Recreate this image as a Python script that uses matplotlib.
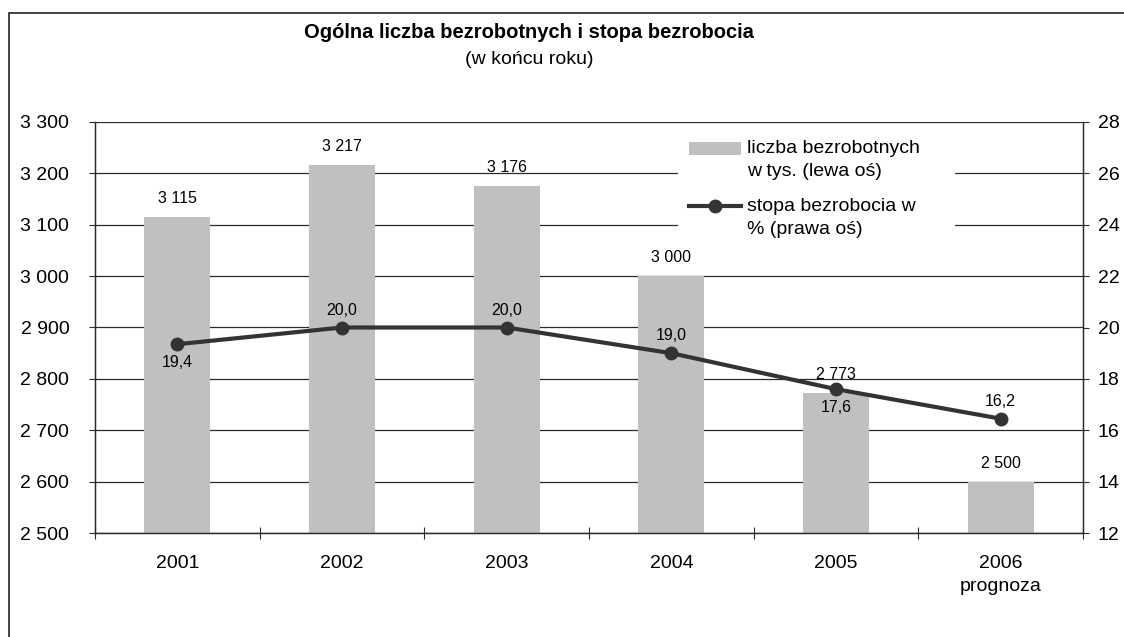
import matplotlib
matplotlib.use("Agg")
import matplotlib.pyplot as plt
from matplotlib.patches import Rectangle
from matplotlib.lines import Line2D
import numpy as np

plt.rcParams['font.family'] = ['Liberation Sans', 'DejaVu Sans']

years = ["2001", "2002", "2003", "2004", "2005", "2006\nprognoza"]
unemployed = [3115, 3217, 3176, 3000, 2773, 2600]
unemployed_labels = ["3 115", "3 217", "3 176", "3 000", "2 773", "2 500"]
rate = [19.35, 20.0, 20.0, 19.0, 17.6, 16.45]
rate_labels = ["19,4", "20,0", "20,0", "19,0", "17,6", "16,2"]
rate_label_pos = ["below", "above", "above", "above", "below", "above"]
left_ticks = [2500, 2600, 2700, 2800, 2900, 3000, 3100, 3200, 3300]
right_ticks = [12, 14, 16, 18, 20, 22, 24, 26, 28]
legend_labels = ["liczba bezrobotnych\nw tys. (lewa oś)", "stopa bezrobocia w\n% (prawa oś)"]

W, H = 1124, 637
fig = plt.figure(figsize=(W / 100, H / 100), dpi=100)
ax = fig.add_axes([95 / W, 1 - 533 / H, (1083 - 95) / W, (533 - 122) / H])
ax2 = ax.twinx()

x = np.arange(len(years))
bar_color = "#c0c0c0"
line_color = "#333333"
grid_color = "#2a2a2a"
FS = 14

ax.set_axisbelow(True)
ax.bar(x, unemployed, width=0.4, color=bar_color, zorder=2)
ax.set_ylim(2500, 3300)
ax.set_xlim(-0.5, len(years) - 0.5)
ax.set_yticks(left_ticks)
ax.set_yticklabels([f"{v:,}".replace(",", " ") for v in left_ticks])
ax.yaxis.grid(True, color=grid_color, linewidth=0.9)
ax.tick_params(axis="y", direction="out", length=4.5, width=0.8, labelsize=FS, pad=14,
               colors=grid_color, labelcolor="black")

ax.set_xticks(x)
ax.set_xticklabels(years, linespacing=1.45)
ax.tick_params(axis="x", which="major", length=0, labelsize=FS, pad=16)
for t in ax.get_xticklabels():
    t.set_va("top")
ax.set_xticks(np.arange(-0.5, len(years), 1.0), minor=True)
ax.tick_params(axis="x", which="minor", direction="inout", length=9, width=0.8, colors=grid_color)

for a in (ax, ax2):
    a.spines["top"].set_visible(False)
    for s in ["left", "right", "bottom"]:
        a.spines[s].set_color(grid_color)
        a.spines[s].set_linewidth(0.9)

for xi, v, lab in zip(x, unemployed, unemployed_labels):
    ax.annotate(lab, (xi, v), xytext=(0, 8), textcoords="offset points",
                ha="center", va="bottom", fontsize=11.5)

ax2.plot(x, rate, color=line_color, linewidth=3, marker="o", markersize=9, zorder=5)
ax2.set_ylim(12, 28)
ax2.set_yticks(right_ticks)
ax2.tick_params(axis="y", direction="out", length=4.5, width=0.8, labelsize=FS, pad=6,
                colors=grid_color, labelcolor="black")
for xi, v, lab, pos in zip(x, rate, rate_labels, rate_label_pos):
    off = 7 if pos == "above" else -8
    ax2.annotate(lab, (xi, v), xytext=(0, off), textcoords="offset points",
                 ha="center", va="bottom" if pos == "above" else "top", fontsize=11.5)

# legend (drawn manually so the keys align with the first text line)
tf = fig.transFigure
fig.patches.append(Rectangle((678 / W, 1 - 242 / H), (955 - 678) / W, (242 - 126) / H,
                             transform=tf, facecolor="white", edgecolor="none", zorder=10))
fig.patches.append(Rectangle((689 / W, 1 - 155 / H), (741 - 689) / W, 13 / H,
                             transform=tf, facecolor=bar_color, edgecolor="none", zorder=11))
fig.lines.append(Line2D([689 / W, 741 / W], [1 - 206 / H, 1 - 206 / H], transform=tf,
                        color=line_color, linewidth=3, zorder=11))
fig.lines.append(Line2D([715 / W], [1 - 206 / H], transform=tf, color=line_color,
                        marker="o", markersize=9, zorder=12))
for lab, yc in zip(legend_labels, [148, 206]):
    fig.text(747 / W, 1 - (yc - 8) / H, lab, ha="left", va="top", fontsize=FS,
             linespacing=1.5, zorder=12)

fig.text(529 / W, 1 - 33 / H, "Ogólna liczba bezrobotnych i stopa bezrobocia",
         ha="center", va="center", fontsize=14.5, fontweight="bold")
fig.text(529 / W, 1 - 60 / H, "(w końcu roku)", ha="center", va="center", fontsize=14)

fig.patches.append(Rectangle((9 / W, -0.05), 1.2, 1 - 13 / H + 0.05, transform=tf,
                             fill=False, edgecolor="#222222", linewidth=1.2))

fig.savefig("out.png", dpi=100, facecolor="white")
